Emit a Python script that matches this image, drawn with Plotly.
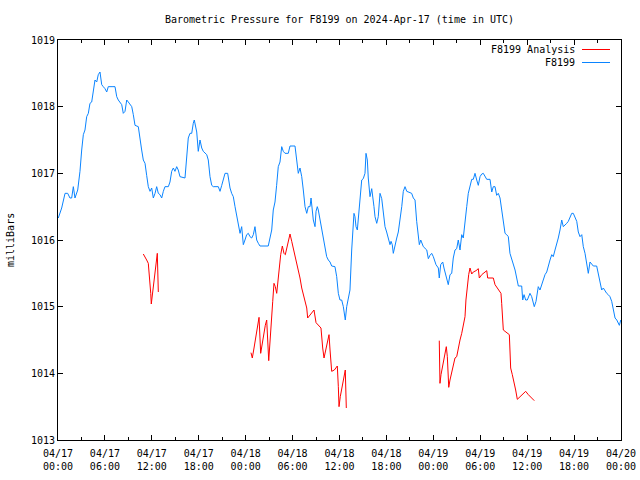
import plotly.graph_objects as go
import pandas as pd

START = pd.Timestamp("2024-04-17 00:00")

# F8199 observed pressure: hours since 2024-04-17 00:00 UTC, millibars
obs_hours = [0.04, 0.47, 0.90, 1.24, 1.53, 1.75, 1.96, 2.17, 2.52, 2.81, 3.03, 3.24, 3.45, 3.67, 3.88, 4.09, 4.31, 4.51,
             4.73, 4.95, 5.15, 5.37, 5.59, 5.79, 6.01, 6.23, 6.43, 6.91, 7.29, 7.51, 7.71, 8.15, 8.35, 8.57, 8.79, 8.99,
             9.21, 9.43, 9.63, 9.85, 10.27, 10.49, 10.70, 10.91, 11.13, 11.34, 11.55, 11.77, 11.98, 12.19, 12.41, 12.62,
             12.83, 13.04, 13.26, 13.47, 13.68, 14.11, 14.32, 14.54, 14.75, 14.96, 15.18, 15.38, 15.60, 16.24, 16.46,
             16.66, 16.88, 17.10, 17.30, 17.43, 17.74, 17.94, 18.16, 18.38, 18.58, 19.02, 19.22, 19.44, 19.66, 19.86,
             20.50, 20.72, 20.94, 21.14, 21.36, 21.70, 22.00, 22.21, 22.42, 22.64, 22.85, 23.06, 23.28, 23.49, 23.70,
             23.91, 24.13, 24.34, 24.55, 24.77, 24.98, 25.19, 25.41, 25.62, 25.83, 26.89, 27.11, 27.33, 27.53, 27.75,
             27.96, 28.17, 28.39, 28.61, 28.81, 29.03, 29.45, 29.67, 30.31, 30.53, 30.73, 30.95, 31.17, 31.37, 31.59,
             31.81, 32.01, 32.23, 32.36, 32.65, 32.87, 33.00, 33.16, 33.29, 33.51, 33.72, 33.93, 34.15, 34.36, 34.57,
             34.79, 35.00, 35.42, 35.64, 35.85, 36.06, 36.28, 36.49, 36.61, 36.74, 36.92, 37.13, 37.34, 37.56, 37.69,
             37.85, 37.98, 38.11, 38.28, 38.40, 38.62, 38.84, 39.04, 39.26, 39.39, 39.56, 39.68, 39.90, 40.12, 40.25,
             40.41, 40.54, 40.76, 40.96, 41.18, 41.40, 41.60, 41.82, 42.03, 42.24, 42.46, 42.59, 42.75, 42.88, 43.01,
             43.19, 43.32, 43.52, 43.74, 43.96, 44.16, 44.38, 44.60, 45.23, 45.44, 45.66, 45.87, 46.08, 46.21, 46.39,
             46.72, 47.16, 47.36, 47.57, 47.79, 48.00, 48.34, 48.64, 48.76, 48.94, 49.20, 49.36, 49.71, 49.91, 50.13,
             50.35, 50.55, 50.77, 50.99, 51.19, 51.41, 51.63, 51.83, 52.05, 52.27, 52.47, 52.69, 52.91, 53.11, 53.33,
             53.55, 53.75, 53.97, 54.19, 54.39, 54.61, 54.83, 55.25, 55.47, 55.67, 55.89, 56.10, 56.31, 56.53, 56.74,
             56.95, 57.17, 57.38, 57.59, 57.80, 58.02, 58.23, 58.45, 58.66, 58.87, 59.30, 59.43, 59.60, 59.81, 60.02,
             60.36, 60.58, 60.78, 60.91, 61.13, 61.30, 61.42, 61.64, 61.86, 62.06, 62.28, 62.50, 62.70, 62.92, 63.14,
             63.34, 63.56, 63.77, 63.98, 64.20, 64.42, 64.62, 64.84, 65.06, 65.26, 65.48, 65.70, 65.90, 66.12, 66.34,
             66.54, 66.76, 66.98, 67.18, 67.40, 67.61, 67.82, 68.04, 68.26, 68.46, 68.89, 69.10, 69.31, 69.53, 69.74,
             69.95, 70.17, 70.37, 70.59, 70.81, 71.02, 71.24, 71.46, 71.66, 71.79, 71.97]
obs_mb = [1016.33, 1016.48, 1016.70, 1016.70, 1016.63, 1016.63, 1016.80, 1016.63, 1016.75, 1017.03, 1017.35, 1017.58,
          1017.65, 1017.85, 1017.90, 1018.05, 1018.07, 1018.22, 1018.40, 1018.37, 1018.48, 1018.52, 1018.33, 1018.30,
          1018.27, 1018.22, 1018.30, 1018.30, 1018.30, 1018.15, 1018.10, 1018.03, 1017.90, 1017.93, 1018.10, 1018.07,
          1018.03, 1018.00, 1017.88, 1017.72, 1017.70, 1017.47, 1017.35, 1017.20, 1017.15, 1016.97, 1016.80, 1016.73,
          1016.78, 1016.63, 1016.70, 1016.80, 1016.70, 1016.68, 1016.63, 1016.73, 1016.80, 1016.80, 1016.87, 1017.03,
          1017.08, 1017.03, 1017.10, 1017.05, 1016.95, 1016.93, 1017.30, 1017.53, 1017.60, 1017.60, 1017.75, 1017.80,
          1017.62, 1017.33, 1017.50, 1017.38, 1017.33, 1017.28, 1017.20, 1016.95, 1016.82, 1016.80, 1016.80, 1016.73,
          1016.82, 1016.90, 1017.00, 1017.00, 1016.78, 1016.70, 1016.65, 1016.50, 1016.35, 1016.20, 1016.10, 1016.20,
          1015.93, 1016.00, 1016.08, 1016.10, 1016.05, 1016.03, 1016.08, 1016.20, 1016.00, 1015.95, 1015.91, 1015.91,
          1016.03, 1016.15, 1016.45, 1016.57, 1016.82, 1017.10, 1017.17, 1017.40, 1017.33, 1017.30, 1017.30, 1017.41,
          1017.41, 1017.20, 1017.00, 1017.08, 1016.95, 1016.75, 1016.50, 1016.40, 1016.50, 1016.50, 1016.63, 1016.30,
          1016.20, 1016.43, 1016.50, 1016.45, 1016.30, 1016.20, 1016.03, 1015.93, 1015.75, 1015.70, 1015.67, 1015.61,
          1015.60, 1015.45, 1015.20, 1015.10, 1015.10, 1015.00, 1014.90, 1014.80, 1015.00, 1015.12, 1015.25, 1015.85,
          1016.20, 1016.40, 1016.35, 1016.20, 1016.15, 1016.30, 1016.65, 1016.90, 1016.92, 1017.00, 1017.30, 1017.20,
          1016.93, 1016.65, 1016.77, 1016.60, 1016.50, 1016.35, 1016.25, 1016.35, 1016.70, 1016.62, 1016.45, 1016.20,
          1016.12, 1016.03, 1015.93, 1015.98, 1015.93, 1015.80, 1015.88, 1015.98, 1016.03, 1016.12, 1016.30, 1016.50,
          1016.73, 1016.80, 1016.73, 1016.70, 1016.63, 1016.60, 1016.28, 1016.05, 1015.93, 1016.00, 1015.90, 1015.85,
          1015.72, 1015.77, 1015.80, 1015.75, 1015.63, 1015.58, 1015.43, 1015.63, 1015.67, 1015.58, 1015.40, 1015.33,
          1015.48, 1015.50, 1015.73, 1015.85, 1015.87, 1016.00, 1015.85, 1016.08, 1016.03, 1016.33, 1016.50, 1016.70,
          1016.82, 1016.91, 1016.91, 1017.00, 1016.90, 1016.82, 1016.95, 1016.99, 1017.00, 1016.96, 1016.91, 1016.91,
          1016.72, 1016.80, 1016.80, 1016.67, 1016.70, 1016.63, 1016.45, 1016.30, 1016.10, 1016.08, 1016.05, 1015.80,
          1015.72, 1015.65, 1015.55, 1015.43, 1015.31, 1015.31, 1015.10, 1015.18, 1015.10, 1015.10, 1015.20, 1015.15,
          1015.08, 1015.00, 1015.08, 1015.20, 1015.30, 1015.25, 1015.33, 1015.38, 1015.48, 1015.52, 1015.63, 1015.70,
          1015.78, 1015.75, 1015.85, 1015.93, 1016.03, 1016.15, 1016.30, 1016.20, 1016.22, 1016.25, 1016.28, 1016.35,
          1016.40, 1016.40, 1016.35, 1016.28, 1016.12, 1016.05, 1016.08, 1015.90, 1015.80, 1015.63, 1015.50, 1015.67,
          1015.63, 1015.61, 1015.61, 1015.50, 1015.35, 1015.25, 1015.28, 1015.23, 1015.20, 1015.18, 1015.15, 1015.08,
          1014.93, 1014.83, 1014.80, 1014.75, 1014.72, 1014.80]

# F8199 Analysis: three separate segments
ana1_hours = [10.91, 11.13, 11.34, 11.55, 11.68, 11.86, 11.93, 12.06, 12.19, 12.37, 12.53, 12.70, 12.83]
ana1_mb = [1015.79, 1015.75, 1015.70, 1015.65, 1015.50, 1015.20, 1015.04, 1015.18, 1015.30, 1015.50, 1015.70,
           1015.80, 1015.22]
ana2_hours = [24.68, 24.85, 25.07, 25.28, 25.49, 25.71, 25.92, 26.13, 26.34, 26.51, 26.69, 26.86, 26.95, 27.11, 27.28,
              27.46, 27.62, 27.79, 27.97, 28.13, 28.30, 28.48, 28.69, 28.90, 29.07, 29.25, 29.45, 29.67, 29.89, 30.09,
              30.31, 30.53, 30.73, 30.95, 31.17, 31.37, 31.59, 31.81, 31.93, 32.32, 32.74, 33.00, 33.63, 33.85, 34.02,
              34.24, 34.44, 34.66, 34.79, 35.00, 35.34, 35.72, 35.85, 35.94, 36.10, 36.32, 36.54, 36.74, 36.87]
ana2_mb = [1014.31, 1014.23, 1014.38, 1014.53, 1014.70, 1014.84, 1014.30, 1014.47, 1014.60, 1014.72, 1014.80, 1014.47,
           1014.19, 1014.47, 1014.85, 1015.08, 1015.35, 1015.30, 1015.20, 1015.38, 1015.63, 1015.78, 1015.91, 1015.80,
           1015.78, 1015.88, 1015.98, 1016.09, 1015.98, 1015.88, 1015.78, 1015.67, 1015.58, 1015.43, 1015.28, 1015.18,
           1015.08, 1014.98, 1014.83, 1014.88, 1014.95, 1014.76, 1014.68, 1014.38, 1014.23, 1014.35, 1014.47, 1014.58,
           1014.35, 1014.03, 1014.05, 1014.11, 1013.80, 1013.50, 1013.65, 1013.80, 1013.93, 1014.05, 1013.48]
ana3_hours = [48.76, 48.85, 48.98, 49.15, 49.33, 49.49, 49.66, 49.79, 49.88, 49.97, 50.13, 50.35, 50.55, 50.77, 50.99,
              51.19, 51.41, 51.63, 51.83, 52.05, 52.17, 52.34, 52.52, 52.69, 52.91, 53.11, 53.46, 53.75, 53.88, 54.19,
              54.48, 54.83, 54.95, 55.67, 55.89, 56.10, 56.40, 56.65, 56.74, 56.87, 56.95, 57.17, 57.51, 57.72, 57.80,
              57.89, 58.10, 58.32, 58.53, 58.74, 59.08, 59.51, 59.81, 60.15, 60.58, 60.91]
ana3_mb = [1014.49, 1013.85, 1013.98, 1014.08, 1014.17, 1014.28, 1014.40, 1014.25, 1013.93, 1013.79, 1013.90, 1014.00,
           1014.13, 1014.23, 1014.25, 1014.38, 1014.50, 1014.60, 1014.70, 1014.85, 1015.10, 1015.35, 1015.48, 1015.58,
           1015.49, 1015.52, 1015.54, 1015.57, 1015.43, 1015.48, 1015.51, 1015.54, 1015.43, 1015.43, 1015.33, 1015.29,
           1015.24, 1015.20, 1015.05, 1014.77, 1014.65, 1014.63, 1014.60, 1014.58, 1014.35, 1014.08, 1013.98, 1013.88,
           1013.75, 1013.61, 1013.65, 1013.70, 1013.73, 1013.68, 1013.63, 1013.59]

tick_hours = [0, 6, 12, 18, 24, 30, 36, 42, 48, 54, 60, 66, 72]
tick_labels = ["04/17<br>00:00", "04/17<br>06:00", "04/17<br>12:00", "04/17<br>18:00",
               "04/18<br>00:00", "04/18<br>06:00", "04/18<br>12:00", "04/18<br>18:00",
               "04/19<br>00:00", "04/19<br>06:00", "04/19<br>12:00", "04/19<br>18:00",
               "04/20<br>00:00"]
y_ticks = [1013, 1014, 1015, 1016, 1017, 1018, 1019]


def to_time(hours):
    return [START + pd.Timedelta(hours=h) for h in hours]


ana_x = to_time(ana1_hours) + [None] + to_time(ana2_hours) + [None] + to_time(ana3_hours)
ana_y = ana1_mb + [None] + ana2_mb + [None] + ana3_mb

RED = "#ff0000"
BLUE = "#0a84ff"
FONT = "DejaVu Sans Mono"

fig = go.Figure()
fig.add_trace(go.Scatter(x=ana_x, y=ana_y, mode="lines", line=dict(color=RED, width=1),
                         connectgaps=False, name="F8199 Analysis", showlegend=False))
fig.add_trace(go.Scatter(x=to_time(obs_hours), y=obs_mb, mode="lines", line=dict(color=BLUE, width=1),
                         name="F8199", showlegend=False))

W, H = 640, 480
L, R, T, B = 58, 19, 40, 40
PW, PH = W - L - R, H - T - B


def px(x):
    return (x - L) / PW


def py(y):
    return (H - B - y) / PH


# legend drawn gnuplot-style (text, then line sample)
legend_items = [("F8199 Analysis", RED, 49.5), ("F8199", BLUE, 62.5)]
for text, col, yy in legend_items:
    fig.add_annotation(x=px(577), y=py(yy), xref="paper", yref="paper", text=text, showarrow=False,
                       xanchor="right", yanchor="middle", font=dict(family=FONT, size=10, color="black"))
    fig.add_shape(type="line", xref="paper", yref="paper", x0=px(582), x1=px(610), y0=py(yy), y1=py(yy),
                  line=dict(color=col, width=1))

fig.add_annotation(x=px(10), y=0.5, xref="paper", yref="paper", text="milliBars", showarrow=False,
                   textangle=-90, xanchor="center", yanchor="middle",
                   font=dict(family=FONT, size=10, color="black"))

fig.update_layout(
    width=W, height=H,
    margin=dict(l=L, r=R, t=T, b=B, autoexpand=False),
    paper_bgcolor="white", plot_bgcolor="white",
    font=dict(family=FONT, size=10, color="black"),
    title=dict(text="Barometric Pressure for F8199 on 2024-Apr-17 (time in UTC)",
               x=(L + PW / 2) / W, xanchor="center", y=(H - 19) / H, yanchor="middle",
               font=dict(family=FONT, size=10, color="black")),
    showlegend=False,
)
fig.update_xaxes(
    type="date", automargin=False,
    range=[START, START + pd.Timedelta(hours=72)],
    tickvals=to_time(tick_hours), ticktext=tick_labels,
    ticks="inside", ticklen=5, tickcolor="black", tickwidth=1,
    ticklabelstandoff=4,
    minor=dict(dtick=3 * 3600 * 1000, tick0=START, ticks="inside", ticklen=3, tickcolor="black", showgrid=False),
    showline=True, linecolor="black", linewidth=1, mirror="ticks",
    showgrid=False, zeroline=False,
    tickfont=dict(family=FONT, size=10, color="black"),
)
fig.update_yaxes(
    automargin=False,
    range=[1013, 1019],
    tickvals=y_ticks, ticktext=[str(v) for v in y_ticks],
    ticks="inside", ticklen=5, tickcolor="black", tickwidth=1,
    showline=True, linecolor="black", linewidth=1, mirror="ticks",
    showgrid=False, zeroline=False,
    tickfont=dict(family=FONT, size=10, color="black"),
)

# remove the browser's default page margin so the figure sits at the window's corner
fig.write_html("out.html", config={"displayModeBar": False},
               post_script="document.body.style.margin='0px';")
